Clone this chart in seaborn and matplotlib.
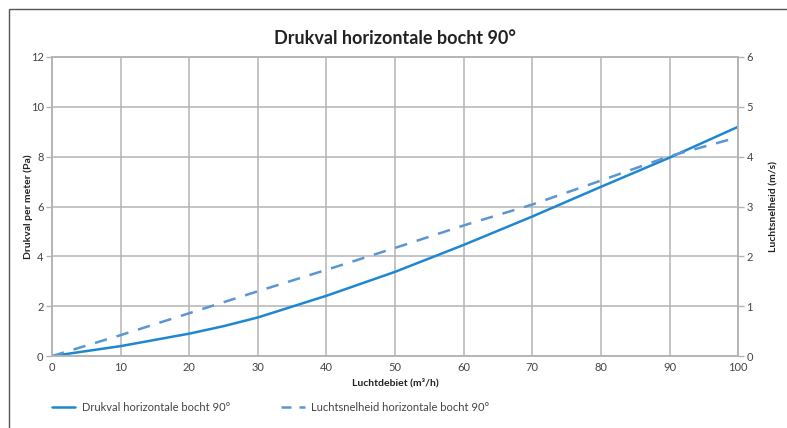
import matplotlib
matplotlib.use("Agg")
import matplotlib.pyplot as plt
import seaborn as sns
import pandas as pd
from matplotlib.patches import Rectangle
from matplotlib.lines import Line2D

# Data
debiet = [0, 10, 20, 25, 30, 40, 50, 60, 70, 80, 90, 100]
drukval = [0, 0.4, 0.9, 1.2, 1.55, 2.42, 3.38, 4.46, 5.6, 6.79, 7.96, 9.2]
snelheid = [0, 0.42, 0.86, 1.08, 1.3, 1.73, 2.17, 2.62, 3.04, 3.52, 4.01, 4.39]

label_druk = "Drukval horizontale bocht 90°"
label_snel = "Luchtsnelheid horizontale bocht 90°"

df = pd.DataFrame({"debiet": debiet, "drukval": drukval, "snelheid": snelheid})

sns.set_style("white")
plt.rcParams["font.family"] = ["Lato", "DejaVu Sans"]

grid_col = "#b4b4b4"
text_col = "#444444"
solid_col = "#1f87d2"
dash_col = "#5a96d2"

fig = plt.figure(figsize=(7.87, 4.28), dpi=100)
ax = fig.add_axes([0.066, 0.168, 0.872, 0.699])
ax2 = ax.twinx()

sns.lineplot(data=df, x="debiet", y="drukval", ax=ax, color=solid_col, lw=1.8,
             legend=False)
sns.lineplot(data=df, x="debiet", y="snelheid", ax=ax2, color=dash_col, lw=1.8,
             legend=False)
ax2.lines[0].set_dashes([5, 4])

ax.set_xlim(0, 100)
ax.set_ylim(0, 12)
ax2.set_ylim(0, 6)
ax.set_xticks(range(0, 101, 10))
ax.set_yticks(range(0, 13, 2))
ax2.set_yticks(range(0, 7))

ax.grid(True, color=grid_col, lw=1.1)
ax.set_axisbelow(True)
for a in (ax, ax2):
    for s in a.spines.values():
        s.set_color(grid_col)
        s.set_linewidth(1.1)
    a.tick_params(colors=text_col, labelsize=8, length=4, width=1, color=grid_col)
    a.tick_params(axis="y", pad=2)
ax.tick_params(axis="x", length=0, pad=4)

ax.set_xlabel("Luchtdebiet (m³/h)", fontsize=7.5, fontweight="bold", color="#222222", labelpad=4)
ax.set_ylabel("Drukval per meter (Pa)", fontsize=7.5, fontweight="bold", color="#222222")
ax.yaxis.set_label_coords(-0.027, 0.5)
ax2.set_ylabel("Luchtsnelheid (m/s)", fontsize=7.5, fontweight="bold", color="#222222",
               rotation=90)
ax2.yaxis.set_label_coords(1.045, 0.5)

fig.text(0.502, 0.911, "Drukval horizontale bocht 90°", ha="center", va="center",
         fontsize=13, fontweight="bold", color="#222222")

handles = [Line2D([], [], color=solid_col, lw=1.8),
           Line2D([], [], color=dash_col, lw=1.8, dashes=(4, 3.2))]
fig.legend(handles, [label_druk, label_snel], loc="center left",
           bbox_to_anchor=(0.066, 0.047), ncol=2, frameon=False, fontsize=8,
           handlelength=2.1, handletextpad=0.6, columnspacing=4.6, borderpad=0,
           borderaxespad=0, labelcolor=text_col)

# figure frame (left and top edges visible)
fig.patches.append(Rectangle((0.012, -0.5), 1.5, 1.479, transform=fig.transFigure,
                             fill=False, edgecolor="#555555", lw=1.0))

fig.savefig("out.png", dpi=100)
